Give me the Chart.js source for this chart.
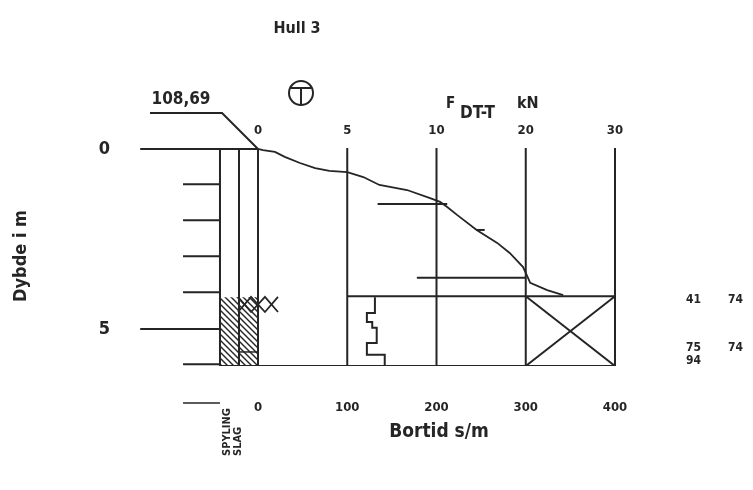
<!DOCTYPE html>
<html>
<head>
<meta charset="utf-8">
<script src="https://cdn.jsdelivr.net/npm/chart.js@4.4.1/dist/chart.umd.min.js"></script>
<style>
  html, body { margin: 0; padding: 0; background: #fff; }
  #wrap { width: 753px; height: 490px; }
</style>
</head>
<body>
<div id="wrap"><canvas id="chart" width="753" height="490"></canvas></div>
<script>
// Bortid axis (s/m) along the bottom
const bortidTicks = [0, 100, 200, 300, 400];
// F DT-T axis (kN) along the top, drawn at the same positions (scale changes at 10 kN)
const forceTicks = [0, 5, 10, 20, 30];
// depth axis (m)
const depthTicks = [0, 5];
const depthMinorTicks = [1, 2, 3, 4, 6];
const bottomDepth = 6.03;

// total sounding force curve
const forceDepth = [0, 0.03, 0.08, 0.22, 0.39, 0.53, 0.61, 0.64, 0.78, 1.0, 1.14, 1.36, 1.47, 1.61, 1.83, 2.25, 2.61, 2.89, 3.28, 3.5, 3.72, 3.92, 4.06];
const forceKN    = [0, 0.28, 0.95, 1.5, 2.35, 3.2, 4.0, 5.0, 5.9, 6.8, 8.35, 9.6, 10.4, 11.2, 12.3, 14.5, 16.8, 18.2, 19.7, 20.1, 20.5, 22.4, 24.2];

// short horizontal marks on the force curve: depth, from kN, to kN
const markDepth  = [1.53, 2.25, 3.58];
const markFromKN = [6.7, 14.5, 8.9];
const markToKN   = [11.2, 15.4, 20.0];

// bortid (drilling time) steps
const bortidDepth = [4.12, 4.56, 4.81, 4.97, 5.39, 5.72, 6.03];
const bortidValue = [131, 122, 128, 133, 122, 142, 142];

// rock drilling part, depth intervals
const rockStart = 4.12;
const spylingIntervals = [[4.12, 6.03]];
const slagIntervals = [[4.12, 6.03]];

// notes at the right side
const noteDepth = [4.19, 5.52, 5.88];
const noteLeft  = ['41', '75', '94'];
const noteRight = ['74', '74', ''];

const terrainLevel = '108,69';

// layout in axis units
const X_MIN = -140.06, X_MAX = 545.66, Y_MIN = -0.083;
const COL = [-42.6, -21.3, 0];
const INK = '#252525';
const FONT = "'DejaVu Sans Condensed', 'DejaVu Sans', sans-serif";

function forcePos(kn) {
  for (let i = 1; i < forceTicks.length; i++) {
    if (kn <= forceTicks[i]) {
      const t = (kn - forceTicks[i - 1]) / (forceTicks[i] - forceTicks[i - 1]);
      return bortidTicks[i - 1] + t * (bortidTicks[i] - bortidTicks[i - 1]);
    }
  }
  return bortidTicks[bortidTicks.length - 1];
}

function seg(points, extra) {
  return Object.assign({
    data: points.map(p => ({ x: p[0], y: p[1] })),
    borderColor: INK, borderWidth: 2, pointRadius: 0, fill: false,
    tension: 0, showLine: true
  }, extra || {});
}

const datasets = [];
// ground line and levelling leader
datasets.push(seg([[-132, 0], [0, 0]]));
datasets.push(seg([[-121, -1.0], [-40.3, -1.0], [0, 0]], { clip: false }));
// columns
COL.forEach(x => datasets.push(seg([[x, 0], [x, bottomDepth]])));
// vertical scale lines
bortidTicks.slice(1).forEach(x => datasets.push(seg([[x, -0.03], [x, bottomDepth]])));
// bottom line
datasets.push(seg([[COL[0], bottomDepth], [bortidTicks[4], bottomDepth]]));
// depth ticks
depthTicks.slice(1).forEach(d => datasets.push(seg([[-132, d], [COL[0], d]])));
depthMinorTicks.forEach(d => datasets.push(seg([[-84, d - 0.02], [COL[0], d - 0.02]])));
// start of rock drilling
datasets.push(seg([[bortidTicks[1], rockStart - 0.03], [bortidTicks[4], rockStart - 0.03]]));
datasets.push(seg([[bortidTicks[3], rockStart - 0.03], [bortidTicks[4], bottomDepth]]));
datasets.push(seg([[bortidTicks[3], bottomDepth], [bortidTicks[4], rockStart - 0.03]]));
// crosses at top of rock
datasets.push(seg([[-22.4, 4.11], [-7.8, 4.53], [7.8, 4.11], [22.4, 4.53]], { borderWidth: 1.8 }));
datasets.push(seg([[-22.4, 4.53], [-7.8, 4.11], [7.8, 4.53], [22.4, 4.11]], { borderWidth: 1.8 }));
datasets.push(seg([[COL[1], 5.64], [COL[2], 5.64]], { borderWidth: 1.5 }));
// legend dash under the columns
datasets.push(seg([[-84, 7.06], [COL[0], 7.06]], { clip: false, borderWidth: 1.5 }));
// force curve
datasets.push(seg(forceDepth.map((d, i) => [forcePos(forceKN[i]), d]), { borderWidth: 1.8 }));
markDepth.forEach((d, i) => datasets.push(seg([[forcePos(markFromKN[i]), d], [forcePos(markToKN[i]), d]])));
// bortid steps
datasets.push(seg(bortidDepth.map((d, i) => [bortidValue[i], d]), { stepped: 'after' }));

const hatchPlugin = {
  id: 'hatch',
  beforeDatasetsDraw(chart) {
    const { ctx, scales: { x, y } } = chart;
    const pc = document.createElement('canvas');
    pc.width = 6; pc.height = 6;
    const p = pc.getContext('2d');
    p.strokeStyle = INK; p.lineWidth = 1.4;
    p.beginPath();
    p.moveTo(-1, -1); p.lineTo(7, 7);
    p.moveTo(-1, 5); p.lineTo(1, 7);
    p.moveTo(5, -1); p.lineTo(7, 1);
    p.stroke();
    const pattern = ctx.createPattern(pc, 'repeat');
    ctx.save();
    ctx.fillStyle = pattern;
    const fillCol = (intervals, c0, c1) => intervals.forEach(iv => {
      const x0 = x.getPixelForValue(c0), x1 = x.getPixelForValue(c1);
      const y0 = y.getPixelForValue(iv[0]), y1 = y.getPixelForValue(iv[1]);
      ctx.fillRect(x0, y0, x1 - x0, y1 - y0);
    });
    fillCol(spylingIntervals, COL[0], COL[1]);
    fillCol(slagIntervals, COL[1], COL[2]);
    ctx.restore();
  }
};

const textPlugin = {
  id: 'texts',
  afterDraw(chart) {
    const { ctx, scales: { x, y } } = chart;
    ctx.save();
    ctx.fillStyle = INK;
    ctx.strokeStyle = INK;
    ctx.textBaseline = 'middle';
    ctx.textAlign = 'center';

    ctx.font = 'bold 16px ' + FONT;
    ctx.fillText('Hull 3', 297, 29);

    ctx.font = 'bold 17px ' + FONT;
    ctx.fillText(terrainLevel, 181, 100);

    // terrain symbol
    ctx.lineWidth = 2;
    ctx.beginPath();
    ctx.arc(301, 93, 12, 0, Math.PI * 2);
    ctx.stroke();
    ctx.beginPath();
    ctx.moveTo(291, 88); ctx.lineTo(311, 88);
    ctx.moveTo(301, 88); ctx.lineTo(301, 105);
    ctx.stroke();

    // force axis title
    ctx.textAlign = 'left';
    ctx.font = 'bold 15px ' + FONT;
    ctx.fillText('F', 446, 104);
    ctx.font = 'bold 17px ' + FONT;
    ctx.fillText('DT-T', 460, 114);
    ctx.font = 'bold 16px ' + FONT;
    ctx.fillText('kN', 517, 104);

    // column labels
    ctx.font = 'bold 11px ' + FONT;
    [['SPYLING', 227], ['SLAG', 238]].forEach(([t, px]) => {
      ctx.save();
      ctx.translate(px, 456);
      ctx.rotate(-Math.PI / 2);
      ctx.textAlign = 'left';
      ctx.fillText(t, 0, 0);
      ctx.restore();
    });

    // notes
    ctx.textAlign = 'center';
    ctx.font = 'bold 12px ' + FONT;
    noteDepth.forEach((d, i) => {
      const py = y.getPixelForValue(d);
      ctx.fillText(noteLeft[i], x.getPixelForValue(488), py);
      if (noteRight[i]) ctx.fillText(noteRight[i], x.getPixelForValue(535), py);
    });
    ctx.restore();
  }
};

new Chart(document.getElementById('chart'), {
  type: 'scatter',
  data: { datasets },
  plugins: [hatchPlugin, textPlugin],
  options: {
    responsive: false,
    animation: false,
    layout: { padding: { left: 0, right: 8, top: 0, bottom: 0 } },
    plugins: { legend: { display: false }, tooltip: { enabled: false } },
    scales: {
      x: {
        type: 'linear', position: 'bottom', min: X_MIN, max: X_MAX,
        grid: { display: false, drawTicks: false }, border: { display: false },
        afterBuildTicks: s => { s.ticks = bortidTicks.map(v => ({ value: v })); },
        afterFit: s => { s.height = 124; },
        ticks: { autoSkip: false, maxRotation: 0, padding: 34, color: INK, font: { family: FONT, size: 13, weight: 'bold' } },
        title: { display: true, text: 'Bortid s/m', color: INK, font: { family: FONT, size: 19, weight: 'bold' }, padding: { bottom: 47 } }
      },
      x2: {
        type: 'linear', position: 'top', min: X_MIN, max: X_MAX,
        grid: { display: false, drawTicks: false }, border: { display: false },
        afterBuildTicks: s => { s.ticks = bortidTicks.map(v => ({ value: v })); },
        afterFit: s => { s.height = 146; },
        ticks: {
          autoSkip: false, maxRotation: 0, padding: 8, color: INK,
          font: { family: FONT, size: 13, weight: 'bold' },
          callback: (v) => String(forceTicks[bortidTicks.indexOf(v)])
        }
      },
      y: {
        type: 'linear', reverse: true, min: Y_MIN, max: bottomDepth,
        grid: { display: false, drawTicks: false }, border: { display: false },
        afterBuildTicks: s => { s.ticks = depthTicks.map(v => ({ value: v })); },
        afterFit: s => { s.width = 133; },
        ticks: { autoSkip: false, padding: 23, color: INK, font: { family: FONT, size: 18, weight: 'bold' } },
        title: { display: true, text: 'Dybde i m', color: INK, font: { family: FONT, size: 18, weight: 'bold' }, padding: { top: 11 } }
      }
    }
  }
});
</script>
</body>
</html>
